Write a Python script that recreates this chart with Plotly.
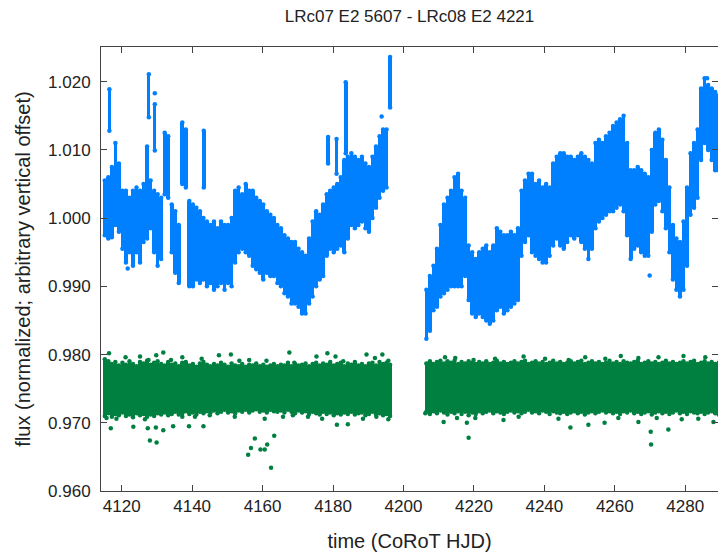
import plotly.graph_objects as go

# ---------------------------------------------------------------------------
# CoRoT light curves, summarised in one-day bins (flux range seen in each bin)
# run A: LRc07, run B: LRc08
# ---------------------------------------------------------------------------
time_a = [4115.2, 4116.2, 4117.2, 4118.2, 4119.2, 4120.2, 4121.2, 4122.2, 4123.2, 4124.2,
          4125.2, 4126.2, 4127.2, 4128.2, 4129.2, 4130.2, 4131.2, 4132.2, 4133.2, 4134.2,
          4135.2, 4136.2, 4137.2, 4138.2, 4139.2, 4140.2, 4141.2, 4142.2, 4143.2, 4144.2,
          4145.2, 4146.2, 4147.2, 4148.2, 4149.2, 4150.2, 4151.2, 4152.2, 4153.2, 4154.2,
          4155.2, 4156.2, 4157.2, 4158.2, 4159.2, 4160.2, 4161.2, 4162.2, 4163.2, 4164.2,
          4165.2, 4166.2, 4167.2, 4168.2, 4169.2, 4170.2, 4171.2, 4172.2, 4173.2, 4174.2,
          4175.2, 4176.2, 4177.2, 4178.2, 4179.2, 4180.2, 4181.2, 4182.2, 4183.2, 4184.2,
          4185.2, 4186.2, 4187.2, 4188.2, 4189.2, 4190.2, 4191.2, 4192.2, 4193.2, 4194.2,
          4195.2, 4196.2]
time_b = [4206.5, 4207.5, 4208.5, 4209.5, 4210.5, 4211.5, 4212.5, 4213.5, 4214.5, 4215.5,
          4216.5, 4217.5, 4218.5, 4219.5, 4220.5, 4221.5, 4222.5, 4223.5, 4224.5, 4225.5,
          4226.5, 4227.5, 4228.5, 4229.5, 4230.5, 4231.5, 4232.5, 4233.5, 4234.5, 4235.5,
          4236.5, 4237.5, 4238.5, 4239.5, 4240.5, 4241.5, 4242.5, 4243.5, 4244.5, 4245.5,
          4246.5, 4247.5, 4248.5, 4249.5, 4250.5, 4251.5, 4252.5, 4253.5, 4254.5, 4255.5,
          4256.5, 4257.5, 4258.5, 4259.5, 4260.5, 4261.5, 4262.5, 4263.5, 4264.5, 4265.5,
          4266.5, 4267.5, 4268.5, 4269.5, 4270.5, 4271.5, 4272.5, 4273.5, 4274.5, 4275.5,
          4276.5, 4277.5, 4278.5, 4279.5, 4280.5, 4281.5, 4282.5, 4283.5, 4284.5, 4285.5,
          4286.5, 4287.5, 4288.5, 4289.5]

# LRc07 E2 5607 (blue), flux minimum / maximum per bin
blue_lo_a = [0.9975, 0.9970, 0.9972, 0.9990, 0.9980, 0.9955, 0.9935, 0.9950, 0.9930, 0.9950,
             0.9935, 0.9965, 0.9970, 0.9985, 0.9950, 0.9930, 0.9940, 1.0035, 1.0030, 0.9950,
             0.9920, 0.9905, 1.0050, 1.0045, 0.9900, 0.9900, 0.9910, 0.9905, 0.9910, 0.9900,
             0.9905, 0.9895, 0.9900, 0.9905, 0.9895, 0.9905, 0.9900, 0.9935, 0.9950, 0.9955,
             0.9950, 0.9945, 0.9930, 0.9925, 0.9920, 0.9910, 0.9920, 0.9915, 0.9915, 0.9905,
             0.9900, 0.9890, 0.9885, 0.9875, 0.9875, 0.9870, 0.9860, 0.9860, 0.9875, 0.9885,
             0.9900, 0.9910, 0.9915, 0.9945, 0.9955, 0.9950, 0.9955, 0.9960, 0.9950, 0.9970,
             0.9990, 0.9985, 0.9990, 0.9995, 0.9985, 0.9980, 1.0000, 1.0015, 1.0030, 1.0040,
             1.0045, 1.0162]
blue_hi_a = [1.0055, 1.0060, 1.0075, 1.0110, 1.0080, 1.0040, 1.0040, 1.0030, 1.0040, 1.0045,
             1.0040, 1.0050, 1.0105, 1.0055, 1.0040, 1.0035, 1.0030, 1.0125, 1.0120, 1.0020,
             1.0010, 0.9990, 1.0140, 1.0130, 1.0025, 1.0020, 1.0015, 1.0010, 1.0000, 0.9995,
             0.9990, 0.9995, 0.9985, 0.9995, 0.9990, 0.9990, 1.0000, 1.0040, 1.0045, 1.0035,
             1.0050, 1.0040, 1.0040, 1.0030, 1.0025, 1.0020, 1.0010, 1.0005, 1.0000, 0.9990,
             0.9985, 0.9975, 0.9970, 0.9965, 0.9965, 0.9955, 0.9950, 0.9945, 0.9970, 0.9995,
             1.0010, 1.0005, 1.0020, 1.0035, 1.0040, 1.0045, 1.0050, 1.0060, 1.0085, 1.0090,
             1.0095, 1.0090, 1.0085, 1.0090, 1.0080, 1.0075, 1.0090, 1.0105, 1.0120, 1.0130,
             1.0130, 1.0236]
blue_lo_b = [0.9823, 0.9835, 0.9865, 0.9870, 0.9885, 0.9890, 0.9895, 0.9900, 0.9900, 0.9900,
             0.9900, 0.9915, 0.9880, 0.9860, 0.9855, 0.9860, 0.9855, 0.9850, 0.9845, 0.9850,
             0.9865, 0.9870, 0.9860, 0.9865, 0.9870, 0.9875, 0.9880, 0.9945, 0.9965, 0.9975,
             0.9950, 0.9945, 0.9940, 0.9935, 0.9935, 0.9945, 0.9960, 0.9970, 0.9960, 0.9955,
             0.9965, 0.9975, 0.9970, 0.9975, 0.9965, 0.9955, 0.9940, 0.9955, 0.9985, 0.9995,
             1.0000, 1.0005, 1.0010, 1.0010, 1.0015, 1.0020, 1.0010, 0.9975, 0.9940, 0.9955,
             0.9960, 0.9950, 0.9945, 0.9945, 0.9980, 1.0020, 1.0025, 1.0010, 0.9985, 0.9950,
             0.9910, 0.9895, 0.9885, 0.9895, 0.9930, 1.0005, 1.0015, 1.0030, 1.0085, 1.0110,
             1.0100, 1.0085, 1.0070, 1.0070]
blue_hi_b = [0.9895, 0.9915, 0.9930, 0.9955, 0.9990, 1.0020, 1.0030, 1.0040, 1.0060, 1.0065,
             1.0040, 1.0030, 0.9960, 0.9950, 0.9940, 0.9950, 0.9955, 0.9960, 0.9950, 0.9960,
             0.9985, 0.9980, 0.9975, 0.9975, 0.9980, 0.9975, 0.9985, 1.0040, 1.0055, 1.0065,
             1.0065, 1.0050, 1.0055, 1.0045, 1.0050, 1.0045, 1.0080, 1.0090, 1.0095, 1.0095,
             1.0090, 1.0090, 1.0085, 1.0090, 1.0095, 1.0090, 1.0085, 1.0080, 1.0110, 1.0115,
             1.0110, 1.0120, 1.0125, 1.0135, 1.0140, 1.0145, 1.0150, 1.0110, 1.0070, 1.0070,
             1.0075, 1.0070, 1.0065, 1.0060, 1.0100, 1.0125, 1.0130, 1.0115, 1.0085, 1.0045,
             0.9990, 0.9970, 0.9965, 0.9995, 1.0045, 1.0095, 1.0110, 1.0130, 1.0190, 1.0205,
             1.0195, 1.0190, 1.0185, 1.0180]

# short excursions of the blue star on top of its running level
blue_flare_time = [4116.5, 4127.7, 4129.4, 4143.3, 4178.6, 4181.0, 4183.6]
blue_flare_lo = [1.0128, 1.0148, 1.0099, 1.0045, 1.0080, 1.0065, 1.0095]
blue_flare_hi = [1.0189, 1.0211, 1.0167, 1.0128, 1.0119, 1.0116, 1.0199]
blue_flare_span = [0.8, 0.9, 0.8, 1.2, 1.0, 0.8, 1.2]

# isolated blue measurements
blue_pt_time = [4129.4, 4193.8, 4286.2, 4269.9, 4121.7]
blue_pt_flux = [1.0183, 1.0149, 1.0205, 0.9916, 0.9926]

# LRc08 E2 4221 (green), flux range of the dense core per bin
green_lo_a = [0.9710, 0.9714, 0.9709, 0.9713, 0.9711, 0.9715, 0.9710, 0.9712, 0.9708, 0.9714,
              0.9711, 0.9713, 0.9709, 0.9712, 0.9710, 0.9714, 0.9712, 0.9715, 0.9711, 0.9713,
              0.9716, 0.9712, 0.9714, 0.9717, 0.9713, 0.9715, 0.9712, 0.9716, 0.9714, 0.9717,
              0.9715, 0.9718, 0.9714, 0.9716, 0.9719, 0.9715, 0.9717, 0.9714, 0.9718, 0.9716,
              0.9719, 0.9715, 0.9718, 0.9720, 0.9716, 0.9718, 0.9715, 0.9719, 0.9717, 0.9716,
              0.9718, 0.9715, 0.9719, 0.9716, 0.9714, 0.9718, 0.9715, 0.9717, 0.9713, 0.9716,
              0.9714, 0.9712, 0.9716, 0.9713, 0.9715, 0.9711, 0.9714, 0.9712, 0.9715, 0.9713,
              0.9716, 0.9712, 0.9714, 0.9715, 0.9711, 0.9713, 0.9716, 0.9712, 0.9714, 0.9711,
              0.9713, 0.9710]
green_hi_a = [0.9793, 0.9790, 0.9786, 0.9789, 0.9784, 0.9788, 0.9785, 0.9790, 0.9786, 0.9783,
              0.9789, 0.9787, 0.9791, 0.9785, 0.9788, 0.9790, 0.9786, 0.9784, 0.9789, 0.9785,
              0.9787, 0.9783, 0.9788, 0.9789, 0.9784, 0.9786, 0.9782, 0.9787, 0.9789, 0.9785,
              0.9783, 0.9786, 0.9784, 0.9788, 0.9785, 0.9782, 0.9787, 0.9784, 0.9783, 0.9786,
              0.9782, 0.9785, 0.9784, 0.9787, 0.9783, 0.9785, 0.9782, 0.9784, 0.9786, 0.9783,
              0.9785, 0.9784, 0.9788, 0.9783, 0.9786, 0.9784, 0.9785, 0.9787, 0.9783, 0.9786,
              0.9788, 0.9784, 0.9787, 0.9785, 0.9789, 0.9784, 0.9786, 0.9788, 0.9783, 0.9787,
              0.9785, 0.9789, 0.9784, 0.9786, 0.9783, 0.9787, 0.9788, 0.9784, 0.9789, 0.9786,
              0.9788, 0.9785]
green_lo_b = [0.9716, 0.9713, 0.9717, 0.9714, 0.9718, 0.9715, 0.9712, 0.9716, 0.9714, 0.9717,
              0.9713, 0.9716, 0.9711, 0.9715, 0.9713, 0.9717, 0.9714, 0.9716, 0.9718, 0.9714,
              0.9717, 0.9715, 0.9713, 0.9716, 0.9718, 0.9715, 0.9717, 0.9714, 0.9716, 0.9719,
              0.9715, 0.9717, 0.9714, 0.9718, 0.9716, 0.9713, 0.9717, 0.9715, 0.9714, 0.9716,
              0.9713, 0.9715, 0.9717, 0.9714, 0.9716, 0.9712, 0.9715, 0.9717, 0.9714, 0.9716,
              0.9718, 0.9715, 0.9717, 0.9714, 0.9716, 0.9713, 0.9717, 0.9715, 0.9718, 0.9714,
              0.9716, 0.9713, 0.9715, 0.9717, 0.9712, 0.9715, 0.9717, 0.9714, 0.9716, 0.9713,
              0.9715, 0.9718, 0.9714, 0.9716, 0.9713, 0.9717, 0.9715, 0.9714, 0.9716, 0.9713,
              0.9715, 0.9717, 0.9714, 0.9712]
green_hi_b = [0.9787, 0.9790, 0.9786, 0.9789, 0.9791, 0.9787, 0.9790, 0.9788, 0.9791, 0.9786,
              0.9789, 0.9787, 0.9790, 0.9788, 0.9786, 0.9789, 0.9787, 0.9790, 0.9786, 0.9788,
              0.9791, 0.9787, 0.9789, 0.9786, 0.9788, 0.9790, 0.9787, 0.9789, 0.9791, 0.9786,
              0.9788, 0.9790, 0.9787, 0.9789, 0.9786, 0.9788, 0.9791, 0.9787, 0.9789, 0.9786,
              0.9788, 0.9790, 0.9787, 0.9789, 0.9791, 0.9786, 0.9788, 0.9790, 0.9787, 0.9789,
              0.9786, 0.9788, 0.9791, 0.9787, 0.9789, 0.9786, 0.9790, 0.9788, 0.9787, 0.9789,
              0.9791, 0.9786, 0.9788, 0.9790, 0.9787, 0.9789, 0.9786, 0.9788, 0.9791, 0.9787,
              0.9789, 0.9786, 0.9788, 0.9790, 0.9787, 0.9789, 0.9791, 0.9786, 0.9788, 0.9790,
              0.9787, 0.9789, 0.9786, 0.9788]

# scattered green measurements outside the dense core
green_pt_time = [4116.4, 4121.1, 4125.2, 4127.6, 4129.8, 4131.8, 4134.0, 4137.2, 4142.7, 4147.6,
                 4151.0, 4153.4, 4156.2, 4161.1, 4167.6, 4169.0, 4175.3, 4178.4, 4180.7, 4182.9,
                 4189.5, 4191.9, 4194.0, 4195.7,
                 4115.7, 4116.9, 4118.5, 4123.3, 4126.6, 4127.4, 4128.0, 4129.7, 4129.9, 4131.8,
                 4134.6, 4137.2, 4139.1, 4140.8, 4143.2, 4145.0, 4152.1, 4160.6, 4165.8, 4168.6,
                 4172.9, 4176.9, 4181.1, 4184.2, 4188.5, 4192.3, 4195.7,
                 4155.9, 4156.7, 4157.8, 4159.4, 4160.6, 4161.3, 4162.4, 4163.3,
                 4211.8, 4214.7, 4219.9, 4226.0, 4234.1, 4240.2, 4246.9, 4251.6, 4257.3, 4261.7,
                 4266.7, 4272.4, 4279.5, 4285.7,
                 4206.2, 4211.4, 4215.2, 4218.5, 4218.0, 4220.4, 4228.4, 4232.7, 4244.0, 4247.4,
                 4252.5, 4257.1, 4261.0, 4266.7, 4270.2, 4270.3, 4271.9, 4275.2, 4279.0, 4283.7,
                 4288.0]
green_pt_flux = [0.9802, 0.9796, 0.9797, 0.9792, 0.9799, 0.9803, 0.9792, 0.9796, 0.9794, 0.9799,
                 0.9800, 0.9791, 0.9792, 0.9791, 0.9803, 0.9788, 0.9797, 0.9802, 0.9797, 0.9790,
                 0.9800, 0.9795, 0.9800, 0.9791,
                 0.9707, 0.9692, 0.9706, 0.9694, 0.9705, 0.9692, 0.9674, 0.9693, 0.9671, 0.9689,
                 0.9695, 0.9709, 0.9695, 0.9709, 0.9695, 0.9711, 0.9709, 0.9706, 0.9709, 0.9711,
                 0.9709, 0.9706, 0.9697, 0.9698, 0.9706, 0.9709, 0.9705,
                 0.9653, 0.9663, 0.9677, 0.9661, 0.9661, 0.9668, 0.9634, 0.9681,
                 0.9796, 0.9795, 0.9792, 0.9794, 0.9797, 0.9794, 0.9792, 0.9796, 0.9794, 0.9798,
                 0.9795, 0.9796, 0.9798, 0.9796,
                 0.9714, 0.9701, 0.9707, 0.9678, 0.9700, 0.9707, 0.9704, 0.9709, 0.9706, 0.9693,
                 0.9697, 0.9700, 0.9707, 0.9701, 0.9687, 0.9668, 0.9707, 0.9690, 0.9705, 0.9706,
                 0.9701]

x_ticks = [4120, 4140, 4160, 4180, 4200, 4220, 4240, 4260, 4280]
y_ticks = [0.960, 0.970, 0.980, 0.990, 1.000, 1.010, 1.020]

BLUE = "#0080ff"
GREEN = "#008040"
INK = "#222222"
AXIS = "#444444"

fig = go.Figure()


def add_band(t, lo, hi, color, span=1.05):
    """Vertical flux range per time bin, with the extreme points dotted."""
    fig.add_trace(go.Bar(
        x=t, base=lo, y=[h - l for l, h in zip(lo, hi)], width=span,
        marker=dict(color=color, line=dict(width=0)), hoverinfo="skip"))
    fig.add_trace(go.Scatter(
        x=list(t) + list(t), y=list(lo) + list(hi), mode="markers",
        marker=dict(size=4.5, color=color), hoverinfo="skip"))


def add_points(t, f, color):
    fig.add_trace(go.Scatter(x=t, y=f, mode="markers",
                             marker=dict(size=4.5, color=color), hoverinfo="skip"))


# green star (lower curve)
add_band(time_a, green_lo_a, green_hi_a, GREEN)
add_band(time_b, green_lo_b, green_hi_b, GREEN)
add_points(green_pt_time, green_pt_flux, GREEN)

# blue star (upper curve)
add_band(time_a, blue_lo_a, blue_hi_a, BLUE)
add_band(time_b, blue_lo_b, blue_hi_b, BLUE)
add_band(blue_flare_time, blue_flare_lo, blue_flare_hi, BLUE, span=blue_flare_span)
add_points(blue_pt_time, blue_pt_flux, BLUE)

fig.update_layout(
    width=718, height=552,
    margin=dict(l=101, r=0, t=47, b=61),
    paper_bgcolor="white", plot_bgcolor="white",
    showlegend=False, barmode="overlay", bargap=0,
    font=dict(family="Liberation Sans, Arial, sans-serif", size=17, color=INK),
    title=dict(text="LRc07 E2 5607 - LRc08 E2 4221", xref="paper", x=0.5,
               xanchor="center", yref="container", y=1 - 16 / 552, yanchor="middle",
               font=dict(size=17, color=INK)),
)
fig.update_xaxes(
    range=[4114.12, 4289.30], tickvals=x_ticks, ticks="inside", ticklen=6,
    tickcolor=AXIS, showline=True, linecolor=AXIS, linewidth=1, mirror="ticks",
    showgrid=False, zeroline=False,
    title=dict(text="time (CoRoT HJD)", standoff=18),
)
fig.update_yaxes(
    range=[0.960, 1.02508], tickvals=y_ticks, tickformat=".3f", ticks="inside", ticklen=6,
    tickcolor=AXIS, showline=True, linecolor=AXIS, linewidth=1, mirror="ticks",
    showgrid=False, zeroline=False, ticklabelstandoff=6,
    title=dict(text="flux (normalized; arbitrary vertical offset)", standoff=12),
)

fig.write_html("out.html")
